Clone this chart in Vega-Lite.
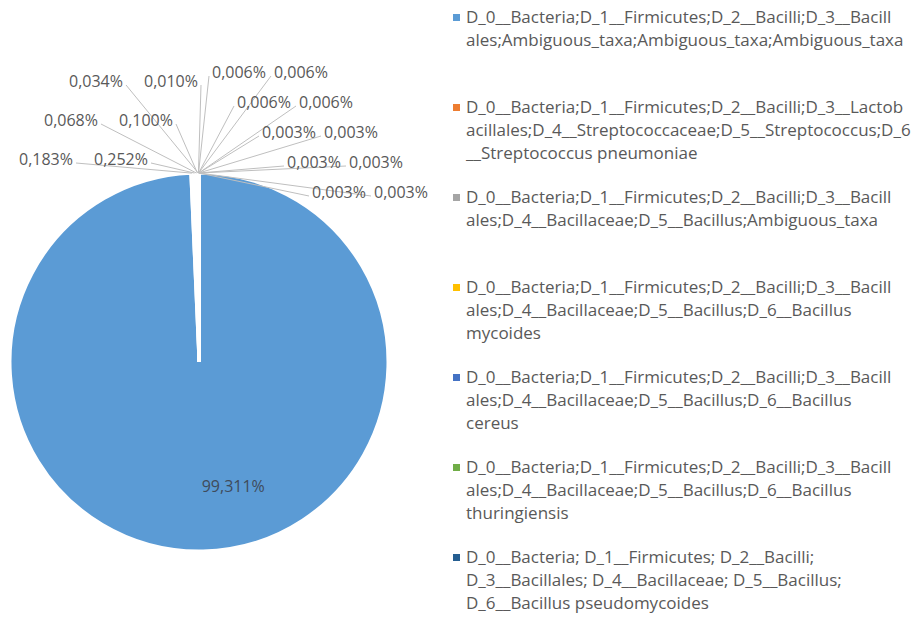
{
  "$schema": "https://vega.github.io/schema/vega-lite/v6.json",
  "width": 398,
  "height": 500,
  "autosize": "none",
  "padding": {"left": 0, "top": 112, "right": 523, "bottom": 6},
  "background": "white",
  "config": {
    "view": {"stroke": null},
    "font": "Open Sans",
    "style": {"guide-label": {"lineHeight": 23, "dy": -8}}
  },
  "data": {
    "values": [
      {"taxon": "D_0__Bacteria;D_1__Firmicutes;D_2__Bacilli;D_3__Bacillales;Ambiguous_taxa;Ambiguous_taxa;Ambiguous_taxa", "share": 99.311},
      {"taxon": "D_0__Bacteria;D_1__Firmicutes;D_2__Bacilli;D_3__Lactobacillales;D_4__Streptococcaceae;D_5__Streptococcus;D_6__Streptococcus pneumoniae", "share": 0.183},
      {"taxon": "D_0__Bacteria;D_1__Firmicutes;D_2__Bacilli;D_3__Bacillales;D_4__Bacillaceae;D_5__Bacillus;Ambiguous_taxa", "share": 0.252},
      {"taxon": "D_0__Bacteria;D_1__Firmicutes;D_2__Bacilli;D_3__Bacillales;D_4__Bacillaceae;D_5__Bacillus;D_6__Bacillus mycoides", "share": 0.068},
      {"taxon": "D_0__Bacteria;D_1__Firmicutes;D_2__Bacilli;D_3__Bacillales;D_4__Bacillaceae;D_5__Bacillus;D_6__Bacillus cereus", "share": 0.100},
      {"taxon": "D_0__Bacteria;D_1__Firmicutes;D_2__Bacilli;D_3__Bacillales;D_4__Bacillaceae;D_5__Bacillus;D_6__Bacillus thuringiensis", "share": 0.034},
      {"taxon": "D_0__Bacteria; D_1__Firmicutes; D_2__Bacilli; D_3__Bacillales; D_4__Bacillaceae; D_5__Bacillus; D_6__Bacillus pseudomycoides", "share": 0.010},
      {"taxon": "Takson 8", "share": 0.006},
      {"taxon": "Takson 9", "share": 0.006},
      {"taxon": "Takson 10", "share": 0.006},
      {"taxon": "Takson 11", "share": 0.006},
      {"taxon": "Takson 12", "share": 0.003},
      {"taxon": "Takson 13", "share": 0.003},
      {"taxon": "Takson 14", "share": 0.003},
      {"taxon": "Takson 15", "share": 0.003},
      {"taxon": "Takson 16", "share": 0.003},
      {"taxon": "Takson 17", "share": 0.003}
    ]
  },
  "transform": [
    {"window": [{"op": "row_number", "as": "idx"}]},
    {"joinaggregate": [{"op": "sum", "field": "share", "as": "total"}]},
    {"window": [{"op": "sum", "field": "share", "as": "cum"}], "sort": [{"field": "idx"}], "frame": [null, 0]},
    {"calculate": "2*PI*(datum.cum - datum.share/2)/datum.total", "as": "mid"},
    {"calculate": "replace(format(datum.share, '.3f'), '.', ',') + '%'", "as": "label"},
    {"calculate": "datum.idx - 2", "as": "k"},
    {"calculate": "189*sin(datum.mid)", "as": "sx"},
    {"calculate": "189*cos(datum.mid)", "as": "sy"},
    {"calculate": "datum.k < 6 ? (-123 + 25*floor(datum.k/2) + 75*(datum.k%2)) : (10 + 25*floor((datum.k-6)/2) + 62*((datum.k-6)%2))", "as": "ax"},
    {"calculate": "189 + (datum.k < 6 ? (10 + 39*floor(datum.k/2)) : (97 - 30*floor((datum.k-6)/2)))", "as": "ay"}
  ],
  "layer": [
    {
      "mark": {"type": "arc", "outerRadius": 189, "stroke": "white", "strokeWidth": 3},
      "encoding": {
        "theta": {"field": "share", "type": "quantitative", "stack": true},
        "order": {"field": "idx", "type": "quantitative"},
        "color": {
          "field": "taxon",
          "type": "nominal",
          "scale": {
            "domain": [
              "D_0__Bacteria;D_1__Firmicutes;D_2__Bacilli;D_3__Bacillales;Ambiguous_taxa;Ambiguous_taxa;Ambiguous_taxa",
              "D_0__Bacteria;D_1__Firmicutes;D_2__Bacilli;D_3__Lactobacillales;D_4__Streptococcaceae;D_5__Streptococcus;D_6__Streptococcus pneumoniae",
              "D_0__Bacteria;D_1__Firmicutes;D_2__Bacilli;D_3__Bacillales;D_4__Bacillaceae;D_5__Bacillus;Ambiguous_taxa",
              "D_0__Bacteria;D_1__Firmicutes;D_2__Bacilli;D_3__Bacillales;D_4__Bacillaceae;D_5__Bacillus;D_6__Bacillus mycoides",
              "D_0__Bacteria;D_1__Firmicutes;D_2__Bacilli;D_3__Bacillales;D_4__Bacillaceae;D_5__Bacillus;D_6__Bacillus cereus",
              "D_0__Bacteria;D_1__Firmicutes;D_2__Bacilli;D_3__Bacillales;D_4__Bacillaceae;D_5__Bacillus;D_6__Bacillus thuringiensis",
              "D_0__Bacteria; D_1__Firmicutes; D_2__Bacilli; D_3__Bacillales; D_4__Bacillaceae; D_5__Bacillus; D_6__Bacillus pseudomycoides",
              "Takson 8", "Takson 9", "Takson 10", "Takson 11", "Takson 12", "Takson 13", "Takson 14", "Takson 15", "Takson 16", "Takson 17"
            ],
            "range": ["#5B9BD5", "#ED7D31", "#A5A5A5", "#FFC000", "#4472C4", "#70AD47", "#255E91", "#9E480E", "#636363", "#997300", "#264478", "#43682B", "#7CAFDD", "#F1975A", "#B7B7B7", "#FFCD33", "#698ED0"]
          },
          "legend": {
            "values": [
              "D_0__Bacteria;D_1__Firmicutes;D_2__Bacilli;D_3__Bacillales;Ambiguous_taxa;Ambiguous_taxa;Ambiguous_taxa",
              "D_0__Bacteria;D_1__Firmicutes;D_2__Bacilli;D_3__Lactobacillales;D_4__Streptococcaceae;D_5__Streptococcus;D_6__Streptococcus pneumoniae",
              "D_0__Bacteria;D_1__Firmicutes;D_2__Bacilli;D_3__Bacillales;D_4__Bacillaceae;D_5__Bacillus;Ambiguous_taxa",
              "D_0__Bacteria;D_1__Firmicutes;D_2__Bacilli;D_3__Bacillales;D_4__Bacillaceae;D_5__Bacillus;D_6__Bacillus mycoides",
              "D_0__Bacteria;D_1__Firmicutes;D_2__Bacilli;D_3__Bacillales;D_4__Bacillaceae;D_5__Bacillus;D_6__Bacillus cereus",
              "D_0__Bacteria;D_1__Firmicutes;D_2__Bacilli;D_3__Bacillales;D_4__Bacillaceae;D_5__Bacillus;D_6__Bacillus thuringiensis",
              "D_0__Bacteria; D_1__Firmicutes; D_2__Bacilli; D_3__Bacillales; D_4__Bacillaceae; D_5__Bacillus; D_6__Bacillus pseudomycoides"
            ],
            "title": null,
            "orient": "none",
            "legendX": 448,
            "legendY": -103,
            "padding": 0,
            "symbolType": "square",
            "symbolSize": 49,
            "symbolStrokeWidth": 0,
            "labelFontSize": 17,
            "labelColor": "#595959",
            "labelLimit": 480,
            "labelOffset": 1,
            "labelBaseline": "top",
            "gridAlign": "all",
            "rowPadding": 26,
            "labelExpr": "slice(split(replace(datum.label, regexp('(.{1,54})(?: +|$)|(.{54})', 'g'), '$1$2|'), '|'), 0, -1)"
          }
        }
      }
    },
    {
      "transform": [{"filter": "datum.k >= 0"}],
      "mark": {"type": "rule", "color": "#BFBFBF", "strokeWidth": 1},
      "encoding": {
        "x": {"field": "sx", "type": "quantitative", "scale": {"domain": [-199, 199], "nice": false, "zero": false}, "axis": null},
        "y": {"field": "sy", "type": "quantitative", "scale": {"domain": [-250, 250], "nice": false, "zero": false}, "axis": null},
        "x2": {"field": "ax"},
        "y2": {"field": "ay"}
      }
    },
    {
      "transform": [{"filter": "datum.k >= 0 && datum.k < 6"}],
      "mark": {"type": "text", "align": "right", "baseline": "alphabetic", "dx": -3, "dy": 2, "fontSize": 16, "color": "#595959"},
      "encoding": {
        "x": {"field": "ax", "type": "quantitative", "scale": {"domain": [-199, 199], "nice": false, "zero": false}, "axis": null},
        "y": {"field": "ay", "type": "quantitative", "scale": {"domain": [-250, 250], "nice": false, "zero": false}, "axis": null},
        "text": {"field": "label", "type": "nominal"}
      }
    },
    {
      "transform": [{"filter": "datum.k >= 6"}],
      "mark": {"type": "text", "align": "left", "baseline": "alphabetic", "dx": 3, "dy": 2, "fontSize": 16, "color": "#595959"},
      "encoding": {
        "x": {"field": "ax", "type": "quantitative", "scale": {"domain": [-199, 199], "nice": false, "zero": false}, "axis": null},
        "y": {"field": "ay", "type": "quantitative", "scale": {"domain": [-250, 250], "nice": false, "zero": false}, "axis": null},
        "text": {"field": "label", "type": "nominal"}
      }
    },
    {
      "transform": [{"filter": "datum.idx == 1"}, {"calculate": "125*sin(datum.mid)", "as": "bx"}, {"calculate": "125*cos(datum.mid)", "as": "by"}],
      "mark": {"type": "text", "align": "left", "baseline": "middle", "fontSize": 16, "color": "#3F4B5B"},
      "encoding": {
        "x": {"field": "bx", "type": "quantitative", "scale": {"domain": [-199, 199], "nice": false, "zero": false}, "axis": null},
        "y": {"field": "by", "type": "quantitative", "scale": {"domain": [-250, 250], "nice": false, "zero": false}, "axis": null},
        "text": {"field": "label", "type": "nominal"}
      }
    }
  ]
}
